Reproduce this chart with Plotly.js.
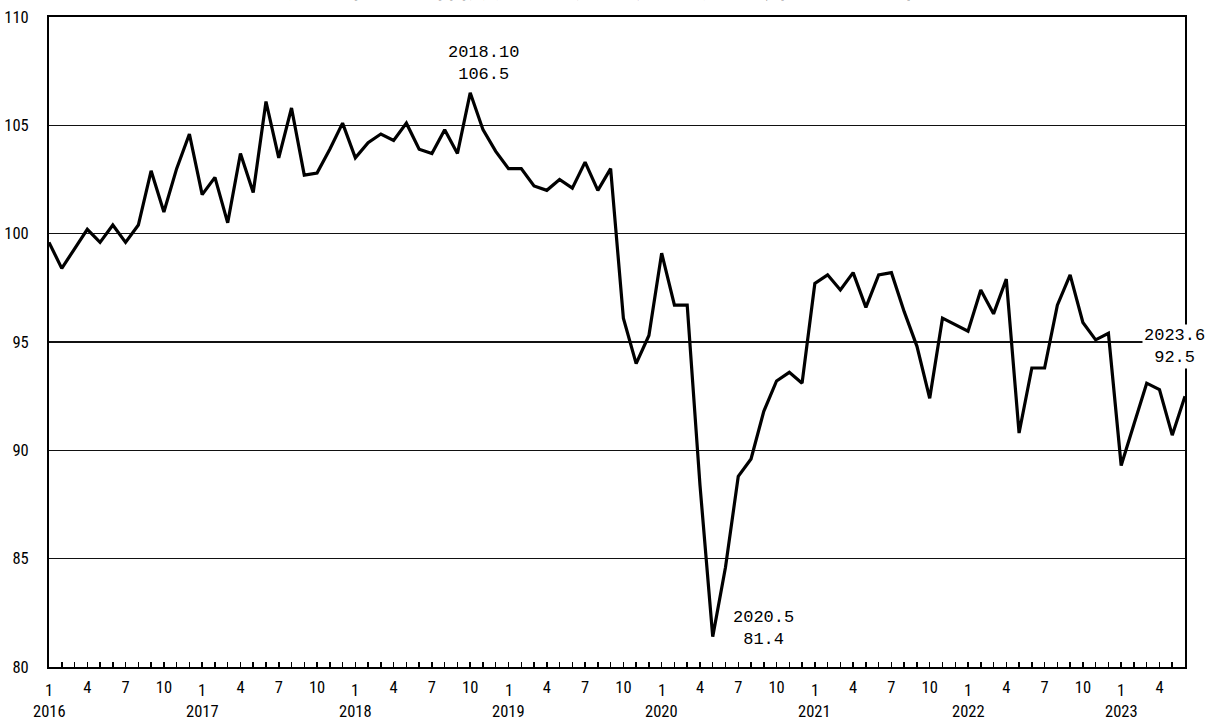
<!DOCTYPE html>
<html>
<head>
<meta charset="utf-8">
<script src="https://cdn.plot.ly/plotly-3.0.1.min.js"></script>
<style>html,body{margin:0;padding:0;background:#fff;}#chart{width:1210px;height:725px;}</style>
</head>
<body>
<div id="chart"></div>
<script>
// ---- data ----
const years = [2016, 2017, 2018, 2019, 2020, 2021, 2022, 2023];
const monthLabels = [1, 4, 7, 10];
const values2016 = [99.6, 98.4, 99.3, 100.2, 99.6, 100.4, 99.6, 100.4, 102.9, 101.0, 103.0, 104.6];
const values2017 = [101.8, 102.6, 100.5, 103.7, 101.9, 106.1, 103.5, 105.8, 102.7, 102.8, 103.9, 105.1];
const values2018 = [103.5, 104.2, 104.6, 104.3, 105.1, 103.9, 103.7, 104.8, 103.7, 106.5, 104.8, 103.8];
const values2019 = [103.0, 103.0, 102.2, 102.0, 102.5, 102.1, 103.3, 102.0, 103.0, 96.1, 94.0, 95.3];
const values2020 = [99.1, 96.7, 96.7, 88.4, 81.4, 84.6, 88.8, 89.6, 91.8, 93.2, 93.6, 93.1];
const values2021 = [97.7, 98.1, 97.4, 98.2, 96.6, 98.1, 98.2, 96.4, 94.8, 92.4, 96.1, 95.8];
const values2022 = [95.5, 97.4, 96.3, 97.9, 90.8, 93.8, 93.8, 96.7, 98.1, 95.9, 95.1, 95.4];
const values2023 = [89.3, 91.2, 93.1, 92.8, 90.7, 92.5];
const titleText = "鉱工業生産指数の推移（季節調整済、2015年=100）";
const callouts = [
  {period: "2018.10", value: 106.5},
  {period: "2020.5", value: 81.4},
  {period: "2023.6", value: 92.5}
];

// ---- build series ----
const yearly = [values2016, values2017, values2018, values2019, values2020, values2021, values2022, values2023];
const periods = [], values = [], idx = [];
yearly.forEach((arr, yi) => arr.forEach((v, mi) => {
  periods.push(years[yi] + "." + (mi + 1));
  values.push(v);
  idx.push(periods.length - 1);
}));
const n = values.length;

const tickvals = [], ticktext = [];
periods.forEach((p, i) => {
  const m = Number(p.split(".")[1]);
  tickvals.push(i);
  ticktext.push(monthLabels.includes(m) && m !== 1 ? String(m) : "");
});

const labelFont = {family: "Liberation Sans Narrow, Roboto Condensed, Liberation Sans, sans-serif", size: 16.5, color: "#000"};
const annFont = {family: "Liberation Mono, DejaVu Sans Mono, monospace", size: 17, color: "#000"};

const annotations = [];
// "1" month labels and year labels
years.forEach((y, yi) => {
  const i = periods.indexOf(y + ".1");
  annotations.push({x: i, y: 0, xref: "x", yref: "paper", text: "1", showarrow: false, borderpad: 0,
    yanchor: "top", yshift: -13, font: labelFont});
  annotations.push({x: i, y: 0, xref: "x", yref: "paper", text: String(y), showarrow: false, borderpad: 0,
    yanchor: "top", yshift: -34, font: labelFont});
});
// callouts
const shifts = {
  "2018.10": {xshift: 13, yshift: 7, yanchor: "bottom", bg: "rgba(0,0,0,0)"},
  "2020.5": {xshift: 51, yshift: 8, yanchor: "middle", bg: "rgba(0,0,0,0)"},
  "2023.6": {xshift: -11, yshift: 50, yanchor: "middle", bg: "#ffffff"}
};
callouts.forEach(c => {
  const s = shifts[c.period];
  annotations.push({x: periods.indexOf(c.period), y: c.value, xref: "x", yref: "y",
    text: c.period + "<br>" + c.value.toFixed(1), showarrow: false, align: "center",
    xanchor: "center", yanchor: s.yanchor, xshift: s.xshift, yshift: s.yshift,
    bgcolor: s.bg, font: annFont});
});
// title (cut off at the top of the picture, as in the reference)
annotations.push({x: 0.53, y: 1, xref: "paper", yref: "paper", yanchor: "bottom", yshift: 8.5,
  text: titleText, showarrow: false, font: {family: "Noto Sans CJK JP, sans-serif", size: 32, color: "#000"}});

const trace = {
  x: idx, y: values, type: "scatter", mode: "lines",
  line: {color: "#000", width: 3.2}, cliponaxis: false, hoverinfo: "skip"
};

const layout = {
  width: 1210, height: 725,
  margin: {l: 49, r: 25, t: 17, b: 58},
  paper_bgcolor: "#fff", plot_bgcolor: "#fff",
  showlegend: false,
  xaxis: {
    range: [0, n - 1], tickmode: "array", tickvals: tickvals, ticktext: ticktext,
    ticks: "inside", ticklen: 5, tickwidth: 1.5, tickcolor: "#000",
    showgrid: false, zeroline: false, showline: true, linecolor: "#000", linewidth: 2, mirror: true,
    tickfont: labelFont, ticklabelstandoff: 4, tickangle: 0
  },
  yaxis: {
    range: [80, 110], dtick: 5, tick0: 80, ticks: "", showgrid: true, gridcolor: "#111", gridwidth: 1.4,
    zeroline: false, showline: true, linecolor: "#000", linewidth: 2, mirror: true,
    tickfont: labelFont, ticklabelstandoff: 15
  },
  annotations: annotations
};

Plotly.newPlot("chart", [trace], layout, {displayModeBar: false, staticPlot: true});
</script>
</body>
</html>
